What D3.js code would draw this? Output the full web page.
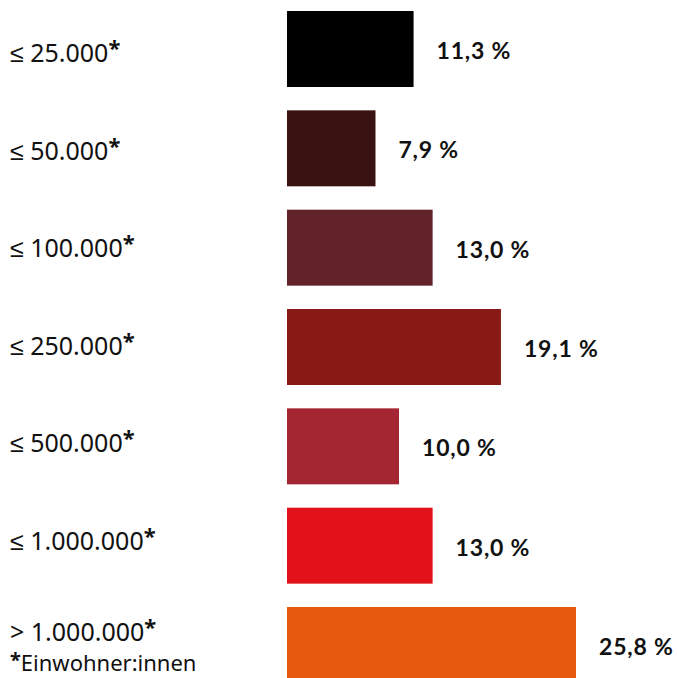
<!DOCTYPE html>
<html>
<head>
<meta charset="utf-8">
<script src="https://cdn.jsdelivr.net/npm/d3@7"></script>
<style>
  html, body { margin: 0; padding: 0; background: #ffffff; }
  svg { display: block; }
</style>
</head>
<body>
<svg id="chart" width="677" height="678"></svg>
<script>
const categories = ["≤ 25.000", "≤ 50.000", "≤ 100.000", "≤ 250.000", "≤ 500.000", "≤ 1.000.000", "> 1.000.000"];
const values = [11.3, 7.9, 13.0, 19.1, 10.0, 13.0, 25.8];
const valueLabels = ["11,3 %", "7,9 %", "13,0 %", "19,1 %", "10,0 %", "13,0 %", "25,8 %"];
const colors = ["#000000", "#3a1212", "#61222a", "#881914", "#a42632", "#e3111a", "#e65a0f"];
const footnote = "Einwohner:innen";

const svg = d3.select("#chart");

const x = d3.scaleLinear().domain([0, 25.8]).range([287, 576]);
const y = d3.scaleBand().domain(categories).range([11, 683]).paddingInner(0.235).paddingOuter(0);
const labelY = d3.scalePoint().domain(categories).range([62, 647.6]);

const rows = categories.map((c, i) => ({ cat: c, value: values[i], label: valueLabels[i], color: colors[i], i }));

svg.selectAll("rect.bar").data(rows).join("rect")
  .attr("class", "bar")
  .attr("x", x(0))
  .attr("y", d => y(d.cat))
  .attr("width", d => x(d.value) - x(0))
  .attr("height", y.bandwidth())
  .attr("fill", d => d.color);

svg.selectAll("text.val").data(rows).join("text")
  .attr("class", "val")
  .attr("x", d => x(d.value) + 23)
  .attr("y", d => y(d.cat) + y.bandwidth() / 2 + 10)
  .attr("font-family", "Lato, 'Noto Sans', sans-serif")
  .attr("font-weight", 700)
  .attr("font-size", 23)
  .attr("letter-spacing", 0.8)
  .attr("fill", "#111111")
  .text(d => d.label);

const cat = svg.selectAll("text.cat").data(rows).join("text")
  .attr("class", "cat")
  .attr("x", 10)
  .attr("y", d => labelY(d.cat) + (d.i === categories.length - 1 ? -7 : 0))
  .attr("font-family", "'Noto Sans', sans-serif")
  .attr("font-size", 25)
  .attr("fill", "#111111");
cat.append("tspan").text(d => d.cat);
cat.append("tspan").attr("dy", -6).attr("font-weight", 700).attr("font-size", 22).text("*");

const fn = svg.append("text")
  .attr("x", 10)
  .attr("y", labelY(categories[categories.length - 1]) + 23)
  .attr("font-family", "'Noto Sans', sans-serif")
  .attr("font-size", 22)
  .attr("fill", "#111111");
fn.append("tspan").attr("font-weight", 700).attr("font-size", 20).attr("dy", -4).text("*");
fn.append("tspan").attr("dy", 4).text(footnote);
</script>
</body>
</html>
